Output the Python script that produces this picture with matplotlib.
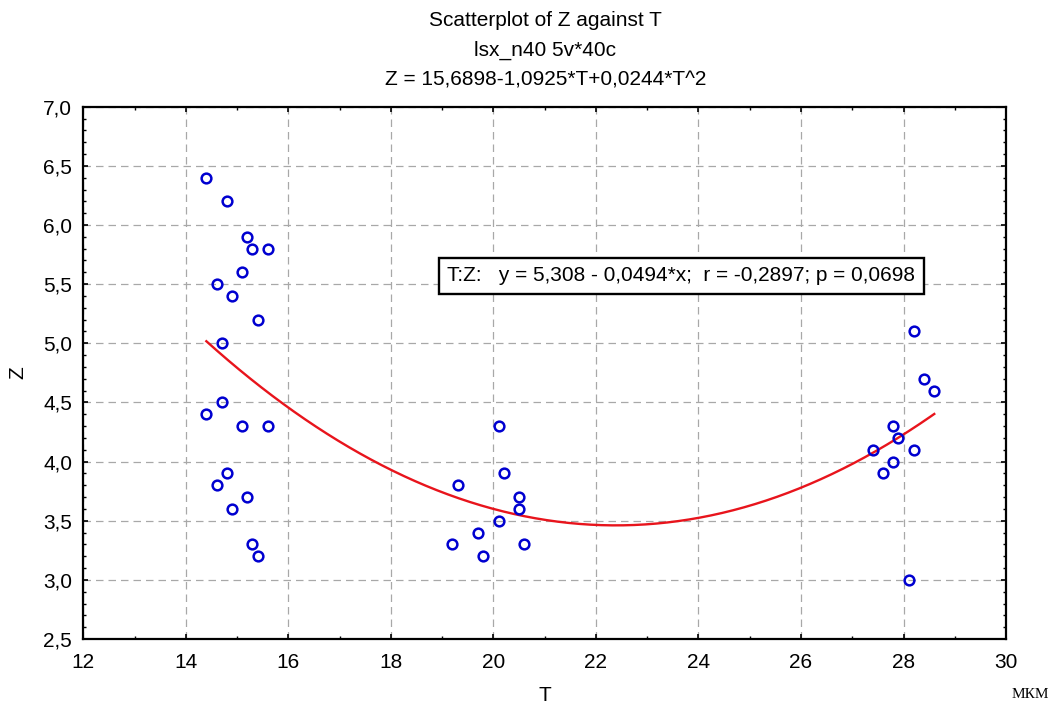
import numpy as np
import matplotlib
matplotlib.use("Agg")
import matplotlib.pyplot as plt
from matplotlib.ticker import MultipleLocator, FuncFormatter

# Datos (T, Z)
t_vals = [14.4, 14.8, 15.2, 15.3, 15.6, 15.1, 14.6, 14.9, 15.4, 14.7,
          14.7, 14.4, 15.1, 15.6, 14.8, 14.6, 15.2, 14.9, 15.3, 15.4,
          19.2, 19.3, 19.7, 19.8, 20.1, 20.1, 20.2, 20.5, 20.5, 20.6,
          27.4, 27.6, 27.8, 27.8, 27.9, 28.1, 28.2, 28.2, 28.4, 28.6]
z_vals = [6.4, 6.2, 5.9, 5.8, 5.8, 5.6, 5.5, 5.4, 5.2, 5.0,
          4.5, 4.4, 4.3, 4.3, 3.9, 3.8, 3.7, 3.6, 3.3, 3.2,
          3.3, 3.8, 3.4, 3.2, 3.5, 4.3, 3.9, 3.7, 3.6, 3.3,
          4.1, 3.9, 4.3, 4.0, 4.2, 3.0, 5.1, 4.1, 4.7, 4.6]

# Coeficientes del ajuste cuadratico (del titulo)
coef_cuad = [15.6898, -1.0925, 0.0244]

titulo = ["Scatterplot of Z against T",
          "lsx_n40 5v*40c",
          "Z = 15,6898-1,0925*T+0,0244*T^2"]
texto_caja = "T:Z:   y = 5,308 - 0,0494*x;  r = -0,2897; p = 0,0698"

plt.rcParams["font.family"] = ["Liberation Sans", "DejaVu Sans"]

fig = plt.figure(figsize=(10.63, 7.09), dpi=100)
ax = fig.add_axes([0.0784, 0.0987, 0.868, 0.7508])

# Curva de ajuste
tt = np.linspace(min(t_vals), max(t_vals), 200)
zz = coef_cuad[0] + coef_cuad[1] * tt + coef_cuad[2] * tt ** 2
ax.plot(tt, zz, color="#e8141c", linewidth=1.7, zorder=3)

# Puntos
ax.plot(t_vals, z_vals, linestyle="none", marker="o", markersize=7,
        markerfacecolor="none", markeredgecolor="#0000d0",
        markeredgewidth=1.8, zorder=4)

ax.set_xlim(12, 30)
ax.set_ylim(2.5, 7.0)
ax.xaxis.set_major_locator(MultipleLocator(2))
ax.xaxis.set_minor_locator(MultipleLocator(1))
ax.yaxis.set_major_locator(MultipleLocator(0.5))
ax.yaxis.set_minor_locator(MultipleLocator(0.1))
ax.yaxis.set_major_formatter(FuncFormatter(lambda v, p: f"{v:.1f}".replace(".", ",")))

ax.tick_params(which="both", direction="in", top=True, right=True,
               labelsize=15, colors="black")
ax.tick_params(which="major", length=3.5, width=1.2, pad=8)
ax.tick_params(which="minor", length=2.2, width=1.0)
ax.tick_params(axis="x", which="major", pad=10)

ax.grid(True, which="major", color="#a8a8a8", linestyle=(0, (6, 4)), linewidth=0.9)
for s in ax.spines.values():
    s.set_linewidth(1.6)

ax.set_xlabel("T", fontsize=15)
ax.set_ylabel("Z", fontsize=15)
ax.xaxis.set_label_coords(0.5, -0.107)
ax.xaxis.label.set_va("center")
ax.yaxis.set_label_coords(-0.071, 0.5)
ax.yaxis.label.set_va("center")

# Caja con la regresion lineal
ax.text(0.648, 0.682, texto_caja, transform=ax.transAxes, fontsize=15,
        ha="center", va="center", zorder=5,
        bbox=dict(boxstyle="square,pad=0.4", facecolor="white",
                  edgecolor="black", linewidth=1.7))

# Titulos
for i, linea in enumerate(titulo):
    fig.text(0.513, 1 - (21 + 29.5 * i) / 709, linea, fontsize=15,
             ha="center", va="center")

fig.text(0.969, 1 - 695 / 709, "МКМ", fontsize=11, ha="center", va="center",
         family=["Liberation Serif", "DejaVu Serif"])

fig.savefig("out.png", dpi=100)
plt.close(fig)
